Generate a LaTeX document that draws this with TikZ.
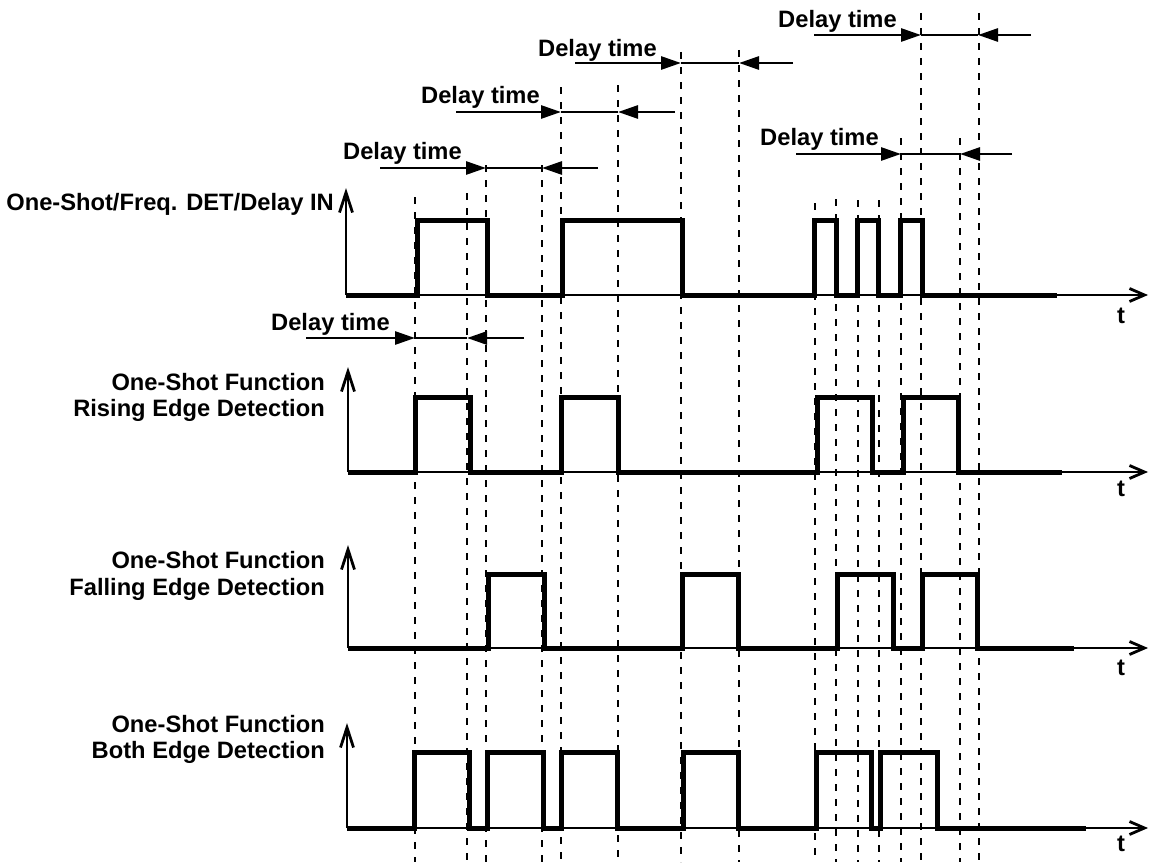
\documentclass[tikz,border=0pt]{standalone}
\usepackage{fontspec}
\setmainfont{Liberation Sans}
\usepackage{tikz}
\usetikzlibrary{arrows.meta}

\tikzset{
  wave/.style={line width=5pt, line join=miter},
  yaxis/.style={line width=2.8pt, -{Straight Barb[length=20pt,width=13pt]}},
  taxis/.style={line width=2.8pt, -{Straight Barb[length=15pt,width=13pt]}},
  guide/.style={line width=2pt, dash pattern=on 7pt off 8pt},
  delay/.style={line width=2.8pt},
  delaytip/.style={line width=2.8pt, -{Triangle[length=20pt,width=13pt]}},
  lbl/.style={inner sep=0pt, font=\fontsize{23.7}{26.5}\selectfont\bfseries},
}

\begin{document}
\begin{tikzpicture}[x=1pt, y=-1pt]
    \useasboundingbox (0,0) rectangle (1150,867);

    % dashed guide lines
    \draw[guide] (415,197) -- (415,862);
    \draw[guide] (467,193) -- (467,862);
    \draw[guide] (486,165) -- (486,862);
    \draw[guide] (542,165) -- (542,862);
    \draw[guide] (561,87) -- (561,862);
    \draw[guide] (618,85) -- (618,862);
    \draw[guide] (681,52) -- (681,862);
    \draw[guide] (739,50) -- (739,862);
    \draw[guide] (815,203) -- (815,862);
    \draw[guide] (836,199) -- (836,862);
    \draw[guide] (858,200) -- (858,862);
    \draw[guide] (879,200) -- (879,862);
    \draw[guide] (901,138) -- (901,862);
    \draw[guide] (921,13) -- (921,862);
    \draw[guide] (960,138) -- (960,862);
    \draw[guide] (979,13) -- (979,862);

    % axes
    \draw[yaxis] (346,295) -- (346,188);
    \draw[taxis] (346,295) -- (1148,295);
    \draw[yaxis] (348,472) -- (348,367);
    \draw[taxis] (348,472) -- (1148,472);
    \draw[yaxis] (348,648) -- (348,545);
    \draw[taxis] (348,648) -- (1148,648);
    \draw[yaxis] (347,828) -- (347,723);
    \draw[taxis] (347,828) -- (1148,828);

    % signals
    \draw[wave] (346,295) -- (417,295) -- (417,220) -- (487,220) -- (487,295)
        -- (562,295) -- (562,220) -- (682,220) -- (682,295) -- (814,295)
        -- (814,220) -- (836,220) -- (836,295) -- (857,295) -- (857,220)
        -- (878,220) -- (878,295) -- (900,295) -- (900,220) -- (922,220)
        -- (922,295) -- (1057,295);
    \draw[wave] (348,472) -- (415,472) -- (415,397) -- (470,397) -- (470,472)
        -- (561,472) -- (561,397) -- (618,397) -- (618,472) -- (817,472)
        -- (817,397) -- (872,397) -- (872,472) -- (903,472) -- (903,397)
        -- (958,397) -- (958,472) -- (1062,472);
    \draw[wave] (348,648) -- (488,648) -- (488,574) -- (544,574) -- (544,648)
        -- (682,648) -- (682,574) -- (738,574) -- (738,648) -- (837,648)
        -- (837,574) -- (893,574) -- (893,648) -- (922,648) -- (922,574)
        -- (977,574) -- (977,648) -- (1074,648);
    \draw[wave] (347,828) -- (414,828) -- (414,752) -- (469,752) -- (469,828)
        -- (487,828) -- (487,752) -- (543,752) -- (543,828) -- (561,828)
        -- (561,752) -- (617,752) -- (617,828) -- (683,828) -- (683,752)
        -- (738,752) -- (738,828) -- (816,828) -- (816,752) -- (871,752)
        -- (871,828) -- (880,828) -- (880,752) -- (937,752) -- (937,828)
        -- (1086,828);

    % signal names
    \node (inlbl) [lbl, anchor=east] at (334,204) {One-Shot/Freq. DET/Delay IN};
    \node (risinglbl) [lbl, anchor=east, align=right] at (325,397.5) {One-Shot Function\\Rising Edge Detection};
    \node (fallinglbl) [lbl, anchor=east, align=right] at (325,576) {One-Shot Function\\Falling Edge Detection};
    \node (bothlbl) [lbl, anchor=east, align=right] at (325,739.5) {One-Shot Function\\Both Edge Detection};
    \node (tin) [lbl] at (1121,316) {t};
    \node (trising) [lbl] at (1121,489) {t};
    \node (tfalling) [lbl] at (1121,668) {t};
    \node (tboth) [lbl] at (1121,844) {t};

    % delay time markers
    \node (dtone) [lbl, anchor=base west] at (778,27.5) {Delay time};
    \coordinate (d1a) at (814,35); \coordinate (d1b) at (921,35);
    \coordinate (d1c) at (978,35); \coordinate (d1d) at (1031,35);
    \draw[delaytip] (d1a) -- (d1b); \draw[delay] (d1b) -- (d1c); \draw[delaytip] (d1d) -- (d1c);

    \node (dttwo) [lbl, anchor=base west] at (538,56.5) {Delay time};
    \coordinate (d2a) at (575,63); \coordinate (d2b) at (681,63);
    \coordinate (d2c) at (739,63); \coordinate (d2d) at (793,63);
    \draw[delaytip] (d2a) -- (d2b); \draw[delay] (d2b) -- (d2c); \draw[delaytip] (d2d) -- (d2c);

    \node (dtthree) [lbl, anchor=base west] at (421,103.5) {Delay time};
    \coordinate (d3a) at (456,112); \coordinate (d3b) at (561,112);
    \coordinate (d3c) at (618,112); \coordinate (d3d) at (675,112);
    \draw[delaytip] (d3a) -- (d3b); \draw[delay] (d3b) -- (d3c); \draw[delaytip] (d3d) -- (d3c);

    \node (dtfour) [lbl, anchor=base west] at (343,159.5) {Delay time};
    \coordinate (d4a) at (380,168); \coordinate (d4b) at (486,168);
    \coordinate (d4c) at (542,168); \coordinate (d4d) at (598,168);
    \draw[delaytip] (d4a) -- (d4b); \draw[delay] (d4b) -- (d4c); \draw[delaytip] (d4d) -- (d4c);

    \node (dtfive) [lbl, anchor=base west] at (760,145.5) {Delay time};
    \coordinate (d5a) at (796,154); \coordinate (d5b) at (901,154);
    \coordinate (d5c) at (960,154); \coordinate (d5d) at (1012,154);
    \draw[delaytip] (d5a) -- (d5b); \draw[delay] (d5b) -- (d5c); \draw[delaytip] (d5d) -- (d5c);

    \node (dtsix) [lbl, anchor=base west] at (271,330.5) {Delay time};
    \coordinate (d6a) at (306,338); \coordinate (d6b) at (415,338);
    \coordinate (d6c) at (467,338); \coordinate (d6d) at (524,338);
    \draw[delaytip] (d6a) -- (d6b); \draw[delay] (d6b) -- (d6c); \draw[delaytip] (d6d) -- (d6c);
\end{tikzpicture}
\end{document}
